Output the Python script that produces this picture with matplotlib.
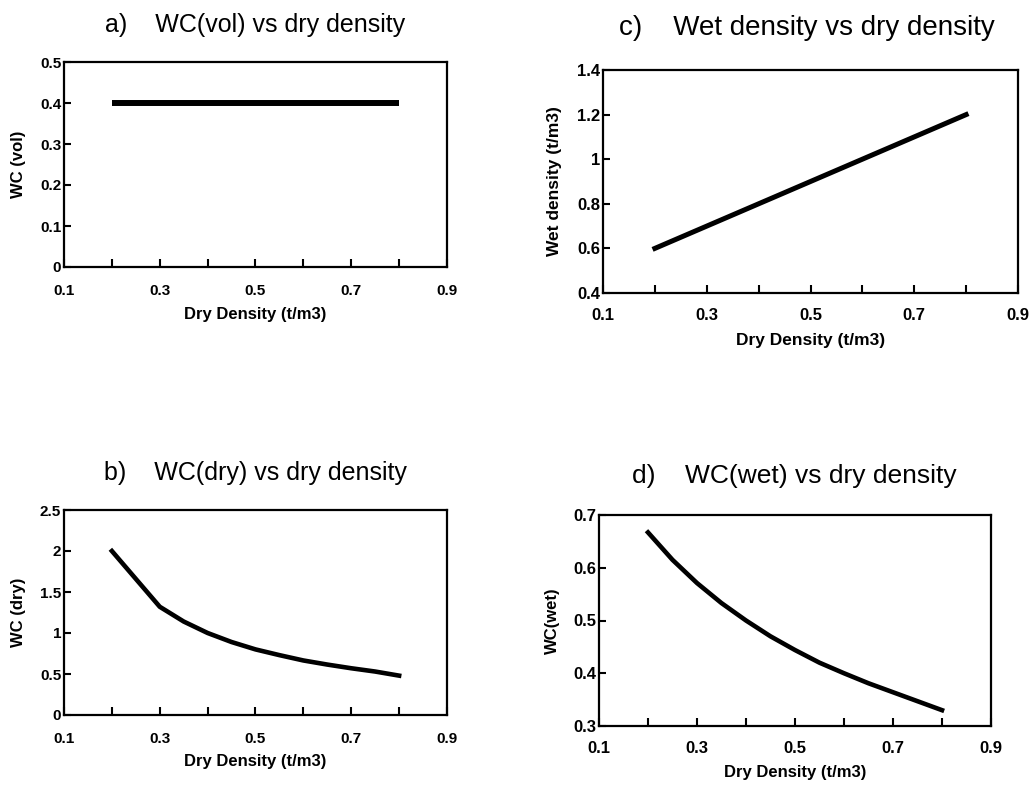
import numpy as np
import matplotlib
matplotlib.use("Agg")
import matplotlib.pyplot as plt

plt.rcParams['font.family'] = ['Liberation Sans', 'DejaVu Sans']

# ===== Данные =====
dry_density = [0.2, 0.3, 0.4, 0.5, 0.6, 0.7, 0.8]
wc_vol = [0.4, 0.4, 0.4, 0.4, 0.4, 0.4, 0.4]
wet_density = [0.6, 0.7, 0.8, 0.9, 1.0, 1.1, 1.2]

dry_density_b = [0.2, 0.3, 0.35, 0.4, 0.45, 0.5, 0.55, 0.6, 0.65, 0.7, 0.75, 0.8]
wc_dry = [2.0, 1.32, 1.14, 1.0, 0.89, 0.8, 0.73, 0.665, 0.615, 0.57, 0.53, 0.48]

dry_density_d = [0.2, 0.25, 0.3, 0.35, 0.4, 0.45, 0.5, 0.55, 0.6, 0.65, 0.7, 0.75, 0.8]
wc_wet = [0.667, 0.615, 0.571, 0.533, 0.5, 0.47, 0.444, 0.42, 0.4, 0.381, 0.364, 0.347, 0.33]

x_ticks = [0.1, 0.2, 0.3, 0.4, 0.5, 0.6, 0.7, 0.8, 0.9]
x_labels = ['0.1', '', '0.3', '', '0.5', '', '0.7', '', '0.9']

W, H = 1031, 786
fig = plt.figure(figsize=(W / 100, H / 100), dpi=100)


def make_axes(L, R, T, B):
    return fig.add_axes([L / W, 1 - B / H, (R - L) / W, (B - T) / H])


def style(ax, box, ylim, yticks, ylabels, ylabel, tick_fs, lab_fs,
          xlab_top, ylab_x, xpad):
    L, R, T, B = box
    ax.set_xlim(0.1, 0.9)
    ax.set_ylim(*ylim)
    ax.set_xticks(x_ticks)
    ax.set_xticklabels(x_labels)
    ax.set_yticks(yticks)
    ax.set_yticklabels(ylabels)
    for s in ax.spines.values():
        s.set_linewidth(1.6)
    ax.tick_params(axis='x', direction='in', length=6, width=1.5,
                   pad=xpad, labelsize=tick_fs)
    ax.tick_params(axis='y', direction='in', length=5, width=1.5,
                   pad=2, labelsize=tick_fs)
    for lab in ax.get_xticklabels() + ax.get_yticklabels():
        lab.set_fontweight('bold')
    ax.set_xlabel("Dry Density (t/m3)", fontsize=lab_fs, fontweight='bold')
    ax.set_ylabel(ylabel, fontsize=lab_fs, fontweight='bold')
    ax.xaxis.set_label_coords(0.5, -(xlab_top - B) / (B - T))
    ax.yaxis.label.set_va('center')
    ax.yaxis.set_label_coords((ylab_x - L) / (R - L), 0.5)


# ===== a) =====
box_a = (64, 447, 62, 267)
ax = make_axes(*box_a)
ax.plot(dry_density, wc_vol, color='black', linewidth=4.3, solid_capstyle='butt')
style(ax, box_a, (0, 0.5), [0, 0.1, 0.2, 0.3, 0.4, 0.5],
      ['0', '0.1', '0.2', '0.3', '0.4', '0.5'], "WC (vol)", 11, 12,
      307, 18, 12)
fig.text(255 / W, 1 - 32 / H, "a)    WC(vol) vs dry density",
         ha='center', va='baseline', fontsize=18)

# ===== c) =====
box_c = (603, 1018, 70, 293)
ax = make_axes(*box_c)
ax.plot(dry_density, wet_density, color='black', linewidth=3.6)
style(ax, box_c, (0.4, 1.4), [0.4, 0.6, 0.8, 1.0, 1.2, 1.4],
      ['0.4', '0.6', '0.8', '1', '1.2', '1.4'], "Wet density (t/m3)", 12, 12.5,
      333, 555, 11)
fig.text(807 / W, 1 - 35 / H, "c)    Wet density vs dry density",
         ha='center', va='baseline', fontsize=20)

# ===== b) =====
box_b = (64, 447, 510, 715)
ax = make_axes(*box_b)
ax.plot(dry_density_b, wc_dry, color='black', linewidth=3.3)
style(ax, box_b, (0, 2.5), [0, 0.5, 1.0, 1.5, 2.0, 2.5],
      ['0', '0.5', '1', '1.5', '2', '2.5'], "WC (dry)", 11, 12,
      754, 18, 12)
fig.text(255 / W, 1 - 480 / H, "b)    WC(dry) vs dry density",
         ha='center', va='baseline', fontsize=18)

# ===== d) =====
box_d = (599, 991, 515, 726)
ax = make_axes(*box_d)
ax.plot(dry_density_d, wc_wet, color='black', linewidth=3.3)
style(ax, box_d, (0.3, 0.7), [0.3, 0.4, 0.5, 0.6, 0.7],
      ['0.3', '0.4', '0.5', '0.6', '0.7'], "WC(wet)", 12, 12,
      765, 552, 11)
fig.text(794 / W, 1 - 483 / H, "d)    WC(wet) vs dry density",
         ha='center', va='baseline', fontsize=19)

fig.savefig("out.png", dpi=100)
